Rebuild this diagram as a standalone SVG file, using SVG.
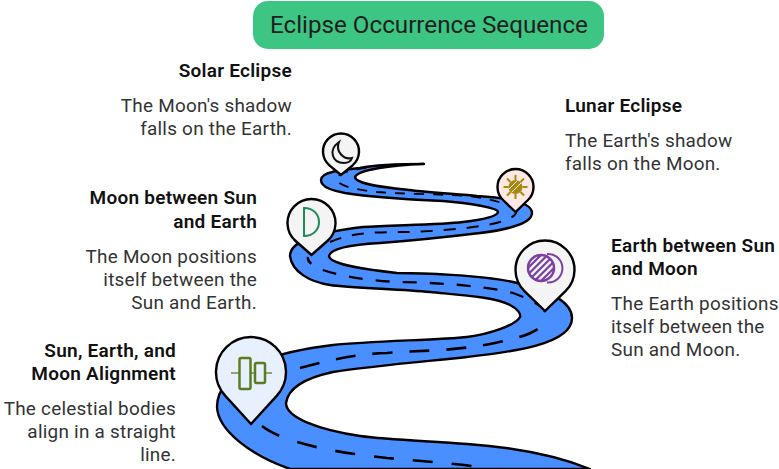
<svg xmlns="http://www.w3.org/2000/svg" width="779" height="469" viewBox="0 0 779 469">
<style>
text{font-family:Roboto,"Liberation Sans",sans-serif;fill:#1f1f1f}
.h{font-size:19px;font-weight:600;letter-spacing:.25px;fill:#111}
.b{font-size:18.900px;letter-spacing:.25px;fill:#333}
.e{text-anchor:end}
.pin{stroke:#000;stroke-width:2.400}
.ic{fill:none;stroke-width:2}
.d{fill:none;stroke:#000}
</style>
<defs>
<clipPath id="c2"><circle cx="541" cy="268" r="13"/></clipPath>
<clipPath id="c4"><circle cx="515.500" cy="187" r="7"/></clipPath>
</defs>
<rect width="779" height="469" fill="#fff"/>
<g id="title"><rect x="253" y="1" width="351" height="48" rx="15" fill="#3cc583"/><text x="429" y="33" font-size="24.200" text-anchor="middle" fill="#111">Eclipse Occurrence Sequence</text></g>
<g id="connectors">
<path d="M424 164C400 164 375 165 360 168C340 170 321 172 321 180C321 188 335 191 345 193C370 197 420 200 443 201C470 203 498 208 498 212C497 217 480 220 463 222C440 225 390 225 363 227C320 232 290 240 290 256C292 272 310 282 330 285C350 288 400 289 430 292C460 295 495 297 510 305C518 309 521 314 520 317C516 325 490 334 467 337C440 340 370 341 333 345C290 350 217 365 217 407C218 430 250 455 290 469L590 469C555 455 510 447 467 444C430 441 390 440 360 436C320 430 286 418 286 403C288 388 305 378 333 372C370 366 430 361 467 357C510 352 572 345 572 318C572 298 535 287 513 282C480 275 420 273 397 273C370 270 330 265 329 256C330 250 345 245 380 243C420 240 455 236 480 233C505 230 532 224 532 213C532 203 510 198 477 196C460 194 430 193 410 190C390 188 356 185 355 177C358 170 390 165 424 164Z" fill="#4a8fff" stroke="#000" stroke-width="2.400" stroke-linejoin="round"/>
<path class="d" stroke-width="2.600" stroke-dasharray="20 19" d="M262 426C285 444 340 453 387 458C420 461 450 463 480 467"/>
<path class="d" stroke-width="2.600" stroke-dasharray="20 17" d="M300 368C330 360 355 354 387 353C420 350 450 352 495 343C525 337 545 330 545 317"/>
<path class="d" stroke-width="2.300" stroke-dasharray="14 13" d="M545 312C544 307 530 299 513 293C490 287 450 283 400 282C370 281 340 276 323 270C312 265 307 262 308 257"/>
<path class="d" stroke-width="2" stroke-dasharray="12 11" d="M330 242C350 233 375 232 400 232C430 232 480 228 500 222C513 218 517 214 516 211"/>
<path class="d" stroke-width="1.800" stroke-dasharray="10 9" d="M516 211C512 205 490 198 467 196C440 194 400 194 377 192C350 189 336 185 337 178C340 172 350 170 373 167"/>
</g>
<g id="n1"><path class="pin" fill="#e8effd" d="M251 424L225.100 395.600A35 35 0 1 1 276.900 395.600Z"/>
<path stroke="#8fa56a" stroke-width="2" fill="none" d="M231 373H272"/>
<path stroke="#5a7d22" stroke-width="2.500" fill="#e8effd" d="M241 358h8a1.500 1.500 0 0 1 1.500 1.500v28a1.500 1.500 0 0 1-1.500 1.500h-8a1.500 1.500 0 0 1-1.500-1.500v-28a1.500 1.500 0 0 1 1.500-1.500zM256.500 363h7a1.500 1.500 0 0 1 1.500 1.500v17a1.500 1.500 0 0 1-1.500 1.500h-7a1.500 1.500 0 0 1-1.500-1.500v-17a1.500 1.500 0 0 1 1.500-1.500z"/></g>
<g id="n2"><path class="pin" fill="#f4f4f4" d="M545 311L524.500 291.200A29.500 29.500 0 1 1 565.500 291.200Z"/>
<g clip-path="url(#c2)"><path stroke="#7b3fa6" stroke-width="2.200" fill="none" d="M506 290L556 240M512.500 290L562.500 240M519 290L569 240M525.500 290L575.500 240M532 290L582 240"/></g>
<circle cx="541" cy="268" r="13" fill="none" stroke="#7b3fa6" stroke-width="2.500"/><path class="ic" stroke="#7b3fa6" stroke-width="2.300" d="M547 254A14.250 14.250 0 1 1 547 282.400"/></g>
<g id="n3"><path class="pin" fill="#f4f4f4" d="M311.500 255L295.600 241A24 24 0 1 1 327.400 241Z"/>
<path class="ic" stroke="#1e8a5a" stroke-width="2.300" d="M304 208V236C324 236 324 208 304 208Z"/></g>
<g id="n4"><path class="pin" fill="#fde8e4" d="M515.500 212L503 200A18 18 0 1 1 528 200Z"/>
<circle cx="515.500" cy="187" r="7" fill="#a68a10"/><g clip-path="url(#c4)"><path stroke="#fde8e4" stroke-width="1" d="M509 189L518 180M512 192L522 182"/></g><path class="ic" stroke="#a68a10" stroke-width="1.800" d="M515.500 175v5M515.500 194v5M503.500 187h5M522.500 187h5M507 178.500l3.500 3.500M524 178.500l-3.500 3.500M507 195.500l3.500-3.500M524 195.500l-3.500-3.500"/></g>
<g id="n5"><path class="pin" fill="#f4f4f4" d="M341 175L329.400 165.300A18 18 0 1 1 352.600 165.300Z"/>
<path class="ic" stroke="#111" stroke-width="2.200" d="M339 142C328 150 332 163 344 163C348 163 351 161 352 158C344 160 335 152 339 142Z"/></g>
<g id="t1"><text x="176" y="357" class="h e">Sun, Earth, and</text><text x="176" y="380" class="h e">Moon Alignment</text><text x="176" y="415" class="b e">The celestial bodies</text><text x="176" y="438" class="b e">align in a straight</text><text x="176" y="461" class="b e">line.</text></g>
<g id="t2"><text x="611" y="252" class="h">Earth between Sun</text><text x="611" y="275" class="h">and Moon</text><text x="611" y="310" class="b">The Earth positions</text><text x="611" y="333" class="b">itself between the</text><text x="611" y="356" class="b">Sun and Moon.</text></g>
<g id="t3"><text x="257" y="204" class="h e">Moon between Sun</text><text x="257" y="228" class="h e">and Earth</text><text x="257" y="263" class="b e">The Moon positions</text><text x="257" y="286" class="b e">itself between the</text><text x="257" y="309" class="b e">Sun and Earth.</text></g>
<g id="t4"><text x="565" y="112" class="h">Lunar Eclipse</text><text x="565" y="147" class="b">The Earth's shadow</text><text x="565" y="170" class="b">falls on the Moon.</text></g>
<g id="t5"><text x="292" y="77" class="h e">Solar Eclipse</text><text x="292" y="112" class="b e">The Moon's shadow</text><text x="292" y="135" class="b e">falls on the Earth.</text></g>
</svg>
